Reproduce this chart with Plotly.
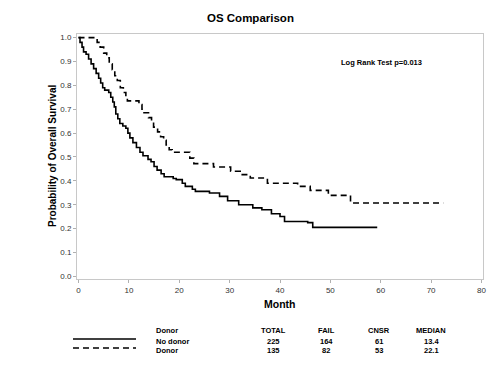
import plotly.graph_objects as go

# Kaplan-Meier step data
nodonor_t = [0, 0.3, 0.7, 1.0, 1.5, 2.0, 2.5, 3.0, 3.5, 4.0, 4.4, 4.8, 5.2, 6.0, 6.4, 6.8,
             7.1, 7.4, 7.8, 8.2, 8.8, 9.4, 9.8, 10.2, 10.8, 11.5, 12.2, 12.8, 13.8, 14.4,
             15.0, 15.6, 16.4, 17.0, 18.8, 19.4, 20.6, 21.2, 22.6, 23.2, 26.0, 28.0, 29.6,
             31.8, 34.6, 36.4, 38.3, 40.0, 40.9, 45.5, 46.5, 59.3]
nodonor_s = [1.0, 0.98, 0.96, 0.94, 0.93, 0.91, 0.89, 0.87, 0.85, 0.83, 0.81, 0.79, 0.78,
             0.77, 0.75, 0.73, 0.71, 0.68, 0.66, 0.64, 0.63, 0.62, 0.60, 0.58, 0.56, 0.54,
             0.52, 0.505, 0.49, 0.48, 0.46, 0.445, 0.43, 0.417, 0.41, 0.405, 0.39, 0.377,
             0.365, 0.356, 0.349, 0.335, 0.317, 0.30, 0.287, 0.279, 0.262, 0.251, 0.23,
             0.225, 0.205, 0.205]

donor_t = [0, 3.7, 4.3, 5.0, 5.6, 6.1, 6.7, 7.2, 7.7, 8.3, 8.9, 9.4, 9.7, 12.0, 12.6,
           13.0, 13.9, 14.5, 14.9, 15.7, 16.3, 16.9, 17.4, 18.0, 18.6, 22.1, 22.9, 26.8,
           30.2, 32.1, 34.1, 37.5, 43.5, 46.0, 49.6, 54.0, 72.4]
donor_s = [1.0, 0.98, 0.96, 0.935, 0.915, 0.89, 0.865, 0.84, 0.82, 0.79, 0.77, 0.75, 0.735,
           0.72, 0.70, 0.685, 0.665, 0.645, 0.625, 0.605, 0.585, 0.57, 0.55, 0.53, 0.52,
           0.495, 0.472, 0.458, 0.44, 0.426, 0.412, 0.39, 0.377, 0.36, 0.339, 0.307, 0.307]

table_header = ["Donor", "TOTAL", "FAIL", "CNSR", "MEDIAN"]
table_rows = [["No donor", "225", "164", "61", "13.4"],
              ["Donor", "135", "82", "53", "22.1"]]

x_ticks = [0, 10, 20, 30, 40, 50, 60, 70, 80]
y_ticks = [0.0, 0.1, 0.2, 0.3, 0.4, 0.5, 0.6, 0.7, 0.8, 0.9, 1.0]

FONT = "Liberation Sans, Arial, sans-serif"
OFF = 8  # page body margin in the browser

W, H = 500, 386
# desired page-pixel frame: left 77, right 483, top 34, bottom 279
l = 77 - OFF
t = 34 - OFF
r = W - (483 - OFF)
b = H - (279 - OFF)
pw, ph = W - l - r, H - t - b

fig = go.Figure()
fig.add_trace(go.Scatter(x=nodonor_t, y=nodonor_s, mode="lines", line_shape="hv",
                         line=dict(color="black", width=1.6), name="No donor",
                         showlegend=False))
fig.add_trace(go.Scatter(x=donor_t, y=donor_s, mode="lines", line_shape="hv",
                         line=dict(color="black", width=1.6, dash="6px,4px"), name="Donor",
                         showlegend=False))

fig.update_layout(
    width=W, height=H,
    margin=dict(l=l, r=r, t=t, b=b, autoexpand=False),
    paper_bgcolor="white", plot_bgcolor="white",
    font=dict(family=FONT, color="#333333"),
    xaxis=dict(range=[-0.3, 80.3], tickvals=x_ticks, ticks="outside", ticklen=3,
               tickcolor="#b0b0b0", showline=True, mirror=True, linecolor="#c8c8c8",
               linewidth=1, showgrid=False, zeroline=False, automargin=False,
               tickfont=dict(size=8, color="#333333", family=FONT)),
    yaxis=dict(range=[-0.011, 1.015], tickvals=y_ticks, tickformat=".1f", ticks="outside",
               ticklen=3, tickcolor="#b0b0b0", showline=True, mirror=True,
               linecolor="#c8c8c8", linewidth=1, showgrid=False, zeroline=False,
               automargin=False,
               tickfont=dict(size=8, color="#333333", family=FONT)),
)

ann = []
ann.append(dict(text="<b>OS Comparison</b>", x=250, y=18, showarrow=False,
                font=dict(size=11.5, color="black", family=FONT)))
ann.append(dict(text="<b>Log Rank Test p=0.013</b>", x=381, y=62, showarrow=False,
                font=dict(size=7.5, color="black", family=FONT)))
ann.append(dict(text="<b>Probability of Overall Survival</b>", x=52, y=156, textangle=-90,
                showarrow=False, font=dict(size=10, color="black", family=FONT)))
ann.append(dict(text="<b>Month</b>", x=280, y=304, showarrow=False,
                font=dict(size=10.5, color="black", family=FONT)))

col_x = [154, 273, 326, 379, 431]
col_anchor = ["left", "center", "center", "center", "center"]
for i, h in enumerate(table_header):
    ann.append(dict(text="<b>%s</b>" % h, x=col_x[i], y=330, xanchor=col_anchor[i],
                    showarrow=False, font=dict(size=7.5, color="black", family=FONT)))
row_y = [341, 350]
for ri, row in enumerate(table_rows):
    for i, v in enumerate(row):
        ann.append(dict(text="<b>%s</b>" % v, x=col_x[i], y=row_y[ri], xanchor=col_anchor[i],
                        showarrow=False, font=dict(size=7.5, color="black", family=FONT)))


def px_x(v):
    return (v - OFF - l) / pw


def px_y(v):
    return (H - b - (v - OFF)) / ph


for a in ann:
    a["xref"] = "paper"
    a["yref"] = "paper"
    a["x"] = px_x(a["x"])
    a["y"] = px_y(a["y"])
    a.setdefault("xanchor", "center")
    a["yanchor"] = "middle"
fig.update_layout(annotations=ann)

fig.add_shape(type="line", xref="paper", yref="paper", x0=px_x(73), x1=px_x(136),
              y0=px_y(339), y1=px_y(339), line=dict(color="black", width=1.6))
fig.add_shape(type="line", xref="paper", yref="paper", x0=px_x(73), x1=px_x(136),
              y0=px_y(348), y1=px_y(348), line=dict(color="black", width=1.6, dash="6px,4px"))

fig.write_html("out.html")
